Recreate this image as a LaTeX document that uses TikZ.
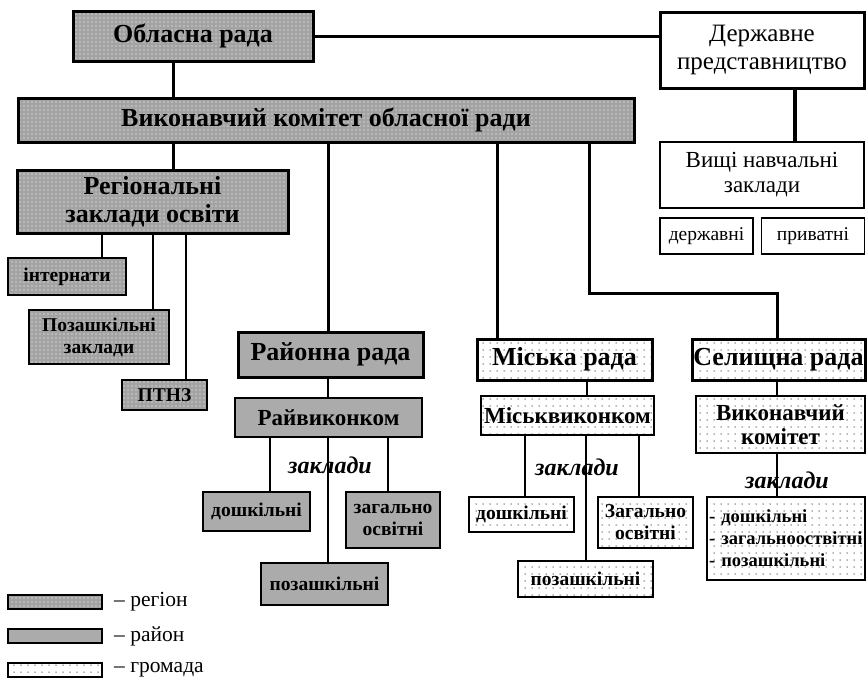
\documentclass[tikz,border=0pt]{standalone}
\usepackage{fontspec}
\setmainfont{Liberation Serif}
\usetikzlibrary{patterns}
\pgfdeclarepatternformonly{wdots}{\pgfqpoint{-1pt}{-1pt}}{\pgfqpoint{1pt}{1pt}}{\pgfqpoint{4pt}{4pt}}{\pgfpathcircle{\pgfpointorigin}{0.65pt}\pgfusepath{fill}}
\pgfdeclarepatternformonly{sdots}{\pgfqpoint{-1pt}{-1pt}}{\pgfqpoint{1pt}{1pt}}{\pgfqpoint{7pt}{7pt}}{\pgfpathcircle{\pgfpointorigin}{0.75pt}\pgfusepath{fill}}
\newcommand\fntHead{\fontsize{26}{29}\selectfont\bfseries}
\newcommand\fntReg{\fontsize{26}{28}\selectfont\bfseries}
\newcommand\fntDerzh{\fontsize{25}{28}\selectfont}
\newcommand\fntVnz{\fontsize{23}{25}\selectfont}
\newcommand\fntSmallR{\fontsize{19.5}{22}\selectfont}
\newcommand\fntMid{\fontsize{23}{24}\selectfont\bfseries}
\newcommand\fntSmall{\fontsize{19.5}{22}\selectfont\bfseries}
\newcommand\fntList{\fontsize{18.5}{22}\selectfont\bfseries}
\newcommand\fntZak{\fontsize{24}{26}\selectfont\bfseries\itshape}
\newcommand\fntLeg{\fontsize{21.5}{24}\selectfont}
\tikzset{
  box/.style={draw, inner sep=1pt, outer sep=0pt, align=center},
  heavy/.style={line width=3pt},
  light/.style={line width=1.6pt},
  regionfill/.style={preaction={fill=black!36}, pattern=wdots, pattern color=white},
  districtfill/.style={fill=black!33},
  communityfill/.style={preaction={fill=white}, pattern=sdots, pattern color=black!60},
  plainfill/.style={fill=white},
  conn/.style={line width=3pt},
  thinconn/.style={line width=1.5pt},
}
\begin{document}
\begin{tikzpicture}[x=1pt,y=-1pt]
\useasboundingbox (0,0) rectangle (867,686);
% top level
\node[box, heavy, regionfill, minimum width=240pt, minimum height=50pt, font=\fntHead] (obl) at (193,36) {Обласна рада};
\node[box, heavy, plainfill, minimum width=204pt, minimum height=76pt, font=\fntDerzh] (derzh) at (762,50) {Державне\\представництво};
\node[box, heavy, regionfill, minimum width=616pt, minimum height=44pt, font=\fntHead] (vyk) at (326,120) {Виконавчий комітет обласної ради};
\node[box, light, plainfill, minimum width=204pt, minimum height=66pt, font=\fntVnz] (vnz) at (762,175) {Вищі навчальні\\заклади};
\node[box, light, plainfill, minimum width=93pt, minimum height=36pt, font=\fntSmallR] (derzhavni) at (706.5,236) {державні};
\node[box, light, plainfill, minimum width=103pt, minimum height=36pt, font=\fntSmallR] (pryvatni) at (813,236) {приватні};
% regional
\node[box, heavy, regionfill, minimum width=271pt, minimum height=63pt, font=\fntReg] (reg) at (152.5,201.5) {Регіональні\\заклади освіти};
\node[box, light, regionfill, minimum width=118pt, minimum height=37pt, font=\fntSmall] (internaty) at (67,276.5) {інтернати};
\node[box, light, regionfill, minimum width=140pt, minimum height=54pt, font=\fntSmall] (pozashk) at (99,337) {Позашкільні\\заклади};
\node[box, light, regionfill, minimum width=85pt, minimum height=30pt, font=\fntSmall] (ptnz) at (164.5,395) {ПТНЗ};
% district
\node[box, heavy, districtfill, minimum width=185pt, minimum height=45pt, font=\fntHead] (rayrada) at (330.5,354.5) {Районна рада};
\node[box, light, districtfill, minimum width=187pt, minimum height=39pt, font=\fntMid] (rayvyk) at (328.5,417.5) {Райвиконком};
\node[box, light, districtfill, minimum width=107pt, minimum height=39pt, font=\fntSmall] (rdosh) at (256.5,511.5) {дошкільні};
\node[box, light, districtfill, minimum width=94pt, minimum height=56pt, font=\fntSmall] (rzag) at (393,520) {загально\\освітні};
\node[box, light, districtfill, minimum width=127pt, minimum height=42pt, font=\fntSmall] (rpoz) at (324.5,584) {позашкільні};
\node[font=\fntZak, inner sep=0pt] (rzak) at (330,465) {заклади};
% city
\node[box, heavy, communityfill, minimum width=175pt, minimum height=41pt, font=\fntHead] (misk) at (564.5,359.5) {Міська рада};
\node[box, light, communityfill, minimum width=173pt, minimum height=39pt, font=\fntMid] (miskvyk) at (567.5,415.5) {Міськвиконком};
\node[box, light, communityfill, minimum width=105pt, minimum height=35pt, font=\fntSmall] (mdosh) at (521.5,514.5) {дошкільні};
\node[box, light, communityfill, minimum width=95pt, minimum height=51pt, font=\fntSmall] (mzag) at (645.5,522.5) {Загально\\освітні};
\node[box, light, communityfill, minimum width=135pt, minimum height=36pt, font=\fntSmall] (mpoz) at (585.5,579) {позашкільні};
\node[font=\fntZak, inner sep=0pt] (mzak) at (577,467) {заклади};
% settlement
\node[box, heavy, communityfill, minimum width=173pt, minimum height=41pt, font=\fntHead] (sel) at (778.5,359.5) {Селищна рада};
\node[box, light, communityfill, minimum width=169pt, minimum height=57pt, font=\fntMid] (selvyk) at (780.5,424.5) {Виконавчий\\комітет};
\node[box, light, communityfill, minimum width=158pt, minimum height=83pt, text width=154pt, align=left, font=\fntList] (sellist) at (786,538.5) {- дошкільні\\- загальнооствітні\\- позашкільні};
\node[font=\fntZak, inner sep=0pt] (szak) at (787,480) {заклади};
% helper x positions
\coordinate (x173) at (173,0);
\coordinate (x795) at (795,0);
\coordinate (x328) at (328,0);
\coordinate (x497) at (497,0);
\coordinate (el) at (589,293);
\coordinate (x777) at (777,0);
\coordinate (x102) at (102,0);
\coordinate (x153) at (153,0);
\coordinate (x186) at (186,0);
\coordinate (x270) at (270,0);
\coordinate (x388) at (388,0);
\coordinate (x587) at (587,0);
\coordinate (x525) at (525,0);
\coordinate (x586) at (586,0);
\coordinate (x639) at (639,0);
% heavy connectors
\draw[conn] (obl.east) -- (obl.east -| derzh.west);
\draw[conn] (obl.south -| x173) -- (vyk.north -| x173);
\draw[line width=4pt] (derzh.south -| x795) -- (vnz.north -| x795);
\draw[conn] (vyk.south -| x173) -- (reg.north -| x173);
\draw[conn] (vyk.south -| x328) -- (rayrada.north -| x328);
\draw[conn] (vyk.south -| x497) -- (misk.north -| x497);
\draw[conn] (vyk.south -| el) -- (el) -| (sel.north -| x777);
% thin connectors
\draw[thinconn] (reg.south -| x102) -- (internaty.north -| x102);
\draw[thinconn] (reg.south -| x153) -- (pozashk.north -| x153);
\draw[thinconn] (reg.south -| x186) -- (ptnz.north -| x186);
\draw[thinconn] (rayrada.south -| x328) -- (rayvyk.north -| x328);
\draw[thinconn] (rayvyk.south -| x270) -- (rdosh.north -| x270);
\draw[thinconn] (rayvyk.south -| x328) -- (rpoz.north -| x328);
\draw[thinconn] (rayvyk.south -| x388) -- (rzag.north -| x388);
\draw[thinconn] (misk.south -| x587) -- (miskvyk.north -| x587);
\draw[thinconn] (miskvyk.south -| x525) -- (mdosh.north -| x525);
\draw[thinconn] (miskvyk.south -| x586) -- (mpoz.north -| x586);
\draw[thinconn] (miskvyk.south -| x639) -- (mzag.north -| x639);
\draw[thinconn] (sel.south -| x777) -- (selvyk.north -| x777);
\draw[thinconn] (selvyk.south -| x777) -- (sellist.north -| x777);
% legend
\node[box, light, regionfill, minimum width=94pt, minimum height=14pt] (lg1) at (55,602) {};
\node[box, light, districtfill, minimum width=94pt, minimum height=14pt] (lg2) at (55,636) {};
\node[box, light, communityfill, minimum width=94pt, minimum height=14pt] (lg3) at (55,670) {};
\node[font=\fntLeg, anchor=west, inner sep=0pt] (lt1) at (114,602) {– регіон};
\node[font=\fntLeg, anchor=west, inner sep=0pt] (lt2) at (114,636) {– район};
\node[font=\fntLeg, anchor=west, inner sep=0pt] (lt3) at (114,670) {– громада};
\end{tikzpicture}
\end{document}
